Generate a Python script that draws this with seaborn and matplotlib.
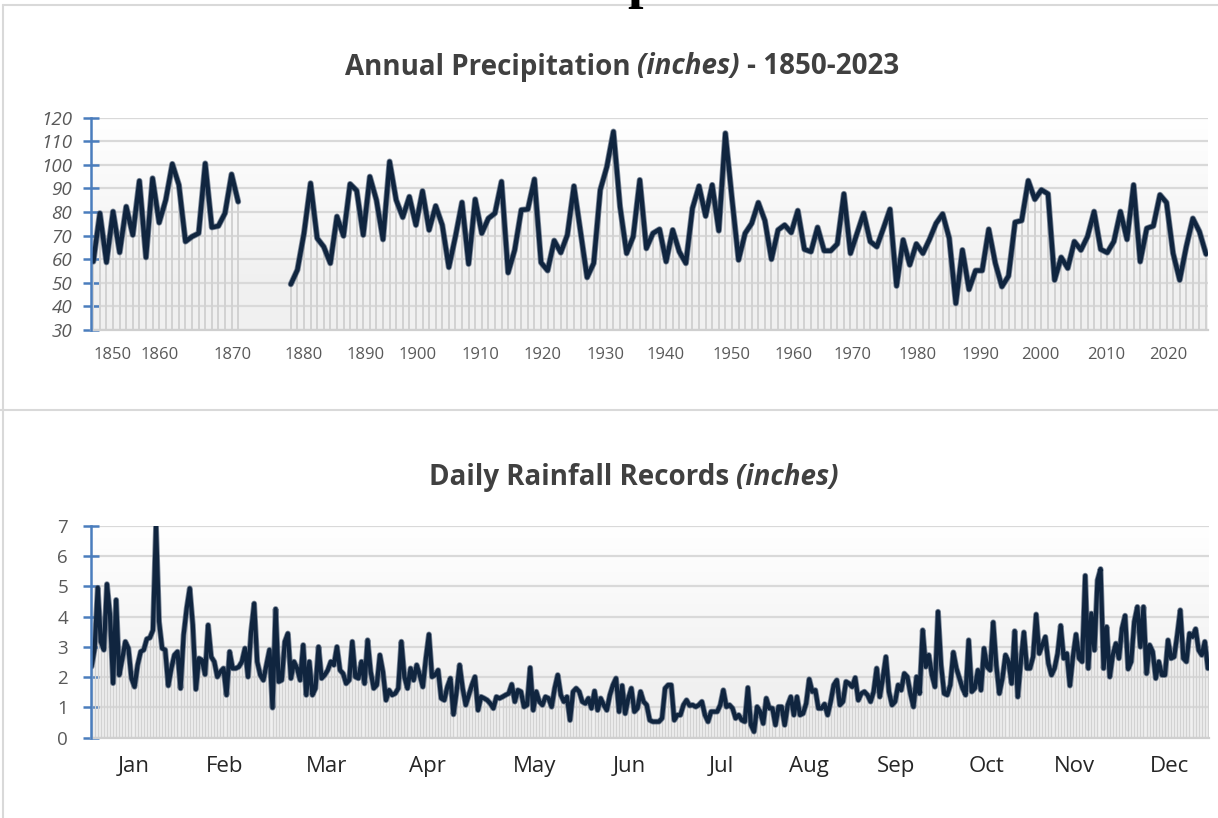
import numpy as np
import pandas as pd
import matplotlib
matplotlib.use("Agg")
import matplotlib.pyplot as plt
import seaborn as sns
from matplotlib.lines import Line2D
from matplotlib import patheffects as pe

# ---------------- data ----------------
annual_early = [59.0, 79.5, 58.7, 80.2, 62.9, 82.3, 70.3, 93.2, 60.8, 94.3, 75.5, 85.1,
                100.4, 91.5, 67.5, 69.6, 71.0, 100.6, 73.5, 74.1, 79.5, 96.0, 84.4]
annual_missing = 7
annual_late = [49.4, 55.5, 71.0, 92.2, 68.9, 65.3, 58.3, 78.1, 69.9, 91.9, 89.1, 70.3,
               95.0, 85.1, 68.4, 101.4, 85.1, 77.8, 86.5, 74.5, 88.9, 72.4, 82.6, 74.5,
               56.6, 69.6, 84.1, 58.0, 85.4,
               71.0, 77.3, 79.5, 92.9, 54.3, 63.9, 80.9, 81.2, 93.9, 58.6, 55.2, 67.9,
               62.8, 70.3, 91.0, 71.7, 52.3, 58.3, 89.4, 99.2, 114.1, 82.3, 62.5, 69.6,
               93.6, 64.6, 71.0, 72.7, 59.0, 72.4, 63.2, 58.3, 81.6, 91.0, 78.3, 91.5,
               72.1, 113.4, 85.8, 59.7, 71.0, 75.2, 84.0, 76.4, 60.0, 72.4, 74.5, 71.3,
               80.6, 64.2, 63.2, 73.5, 63.6, 63.6, 66.5, 87.7, 62.5,
               71.0, 79.5, 67.5, 65.3, 73.1, 81.2, 48.7, 68.2, 57.6, 66.5, 62.5, 68.4,
               75.2, 79.2, 68.9, 41.3, 63.9, 47.2, 55.2, 55.2, 72.7, 58.3, 48.4, 52.9,
               75.7, 76.4, 93.3, 85.4, 89.4, 87.7, 51.2, 60.8, 56.2, 67.5, 63.9, 69.6,
               80.2, 64.2, 62.8, 67.5, 80.2, 68.4, 91.5, 59.0, 73.1, 74.1, 87.3, 84.0,
               62.5, 51.2, 65.3, 77.3, 71.7, 62.2]
decade_labels = ["1850", "1860", "1870", "1880", "1890", "1900", "1910", "1920", "1930",
                 "1940", "1950", "1960", "1970", "1980", "1990", "2000", "2010", "2020"]

daily_record = [
    2.35, 2.95, 4.95, 3.17, 2.9, 5.07, 4.05, 1.8, 4.55, 2.07, 2.6, 3.17, 2.95, 1.96, 1.68,
    2.4, 2.84, 2.9, 3.26, 3.3, 3.55, 7.0, 3.83, 2.95, 2.9, 1.72, 2.29, 2.73, 2.84, 1.63,
    3.39, 4.27, 4.93, 3.72, 1.6, 2.62, 2.56, 2.09, 3.72, 2.67, 2.51, 2.01, 2.18, 2.29, 1.41,
    2.84, 2.29, 2.29, 2.34, 2.51, 2.95, 2.01, 3.5, 4.43, 2.51, 2.07, 1.9, 2.4, 2.9, 0.99,
    4.25, 1.85, 1.9, 3.17, 3.44, 1.96, 2.51, 2.29, 1.9, 3.06, 1.41, 2.51, 1.41,
    1.63, 3.0, 1.96, 2.07, 2.23, 2.51, 2.4, 3.0, 2.23, 2.12, 1.79, 1.9, 3.17, 2.01, 1.96,
    2.51, 1.79, 3.22, 2.18, 1.63, 1.74, 2.73, 2.18, 1.24, 1.57, 1.41, 1.46, 1.63, 3.17, 2.01,
    1.63, 2.29, 1.9, 2.4, 2.07, 1.68, 2.62, 3.41, 2.01, 2.07, 2.23, 1.3, 1.24, 1.68, 1.96,
    0.77, 1.52, 2.4, 1.63, 1.08, 1.41, 1.74, 2.01, 0.91, 1.35, 1.3, 1.24, 1.13, 0.97, 1.35,
    1.3, 1.35, 1.41, 1.46, 1.76, 1.19, 1.57, 1.52, 1.02, 1.08, 2.31, 0.91,
    1.52, 1.19, 1.08, 1.35, 1.3, 1.02, 1.63, 2.07, 1.41, 1.19, 1.35, 0.58, 1.52, 1.63, 1.52,
    1.19, 1.13, 1.3, 0.97, 1.54, 0.91, 1.3, 1.08, 0.91, 1.41, 1.74, 1.96, 0.86, 1.72, 0.8,
    1.3, 1.63, 0.86, 0.97, 1.52, 1.19, 1.08, 0.58, 0.53, 0.53, 0.53, 0.64, 1.63, 1.74, 1.74,
    0.58, 0.75, 0.75, 1.08, 1.24, 1.06, 1.08, 1.02, 1.08, 1.19, 0.75, 0.53, 0.86, 0.86, 0.86,
    1.08, 1.57, 1.02, 1.08, 0.97, 0.64, 0.75, 0.58, 0.53, 1.65, 0.42, 0.2,
    1.02, 0.86, 0.47, 1.3, 0.97, 0.97, 0.42, 1.02, 1.02, 0.42, 1.08, 1.35, 0.75, 1.35, 0.75,
    0.8, 1.13, 1.93, 1.52, 1.57, 0.97, 0.97, 1.11, 0.75, 1.19, 1.74, 1.9, 1.08, 1.19, 1.85,
    1.79, 1.68, 1.98, 1.24, 1.46, 1.52, 1.41, 1.19, 1.52, 2.29, 1.35, 1.96, 2.67, 1.52, 1.08,
    1.19, 1.74, 1.57, 2.12, 2.01, 1.46, 1.02, 2.01, 1.46, 3.55, 2.34, 2.73, 2.07, 1.68, 4.16,
    2.4, 1.46, 1.41, 1.74, 2.82, 2.29, 1.96, 1.63, 1.41, 3.22,
    1.52, 1.63, 2.23, 1.57, 2.95, 2.34, 2.23, 3.81, 2.4, 1.46, 1.96, 2.73, 2.51, 1.79, 3.52,
    1.35, 2.51, 3.48, 2.29, 2.29, 2.67, 4.07, 2.78, 3.06, 3.33, 2.45, 2.07, 2.29, 2.78, 3.7,
    2.62, 2.78, 1.72, 2.67, 3.41, 2.62, 2.51, 5.35, 2.29, 4.1, 2.89, 5.2, 5.57, 2.29, 3.66,
    2.01, 2.73, 3.11, 2.62, 3.61, 4.03, 2.27, 2.51, 3.83, 4.32, 3.0, 4.32, 2.12, 3.06, 2.84,
    1.96, 2.51, 2.07, 2.07, 3.22, 2.62, 2.67, 3.39, 4.21, 2.62, 2.51, 3.44, 3.33, 3.59, 2.89,
    2.73, 3.17, 2.29]
month_labels = ["Jan", "Feb", "Mar", "Apr", "May", "Jun", "Jul", "Aug", "Sep", "Oct", "Nov", "Dec"]

# ---------------- layout (tick positions in category units) ----------------
decade_tick_pos = [3.0, 10.1, 21.1, 31.9, 41.3, 49.2, 58.8, 68.3, 77.8, 86.9, 96.9,
                   106.3, 115.3, 125.2, 134.8, 143.9, 153.8, 163.2]
month_tick_pos = [13.9, 43.3, 76.5, 109.4, 144.6, 175.3, 205.2, 233.9, 262.3, 291.9,
                  320.6, 351.6]

W, H = 1218, 818
FONT = ["Open Sans", "DejaVu Sans"]
sns.set_theme(style="white")
plt.rcParams["font.family"] = FONT

LINE_C = "#10253f"
DROP_C = "#d2d2d2"
GRID_C = "#d9d9d9"
AXIS_C = "#4a7dbd"
TXT_C = "#595959"
TITLE_C = "#404040"

fig = plt.figure(figsize=(W / 100, H / 100), dpi=100)
fig.patch.set_facecolor("white")


def add_ax(l, t, r, b):
    return fig.add_axes([l / W, 1 - b / H, (r - l) / W, (b - t) / H])


def gradient(ax, x0, x1, y0, y1):
    g = np.linspace(0, 1, 256).reshape(-1, 1)
    alpha = np.clip((g - 0.25) / 0.75, 0, 1)
    rgba = np.zeros((256, 1, 4))
    rgba[..., :3] = 0.90
    rgba[..., 3] = (1 - alpha[..., 0])[:, None] * 0.55
    ax.imshow(rgba, extent=[x0, x1, y0, y1], origin="lower", aspect="auto",
              zorder=0, interpolation="bicubic")


def style_axis(ax):
    for s in ["top", "right"]:
        ax.spines[s].set_visible(False)
    ax.spines["left"].set_color(AXIS_C)
    ax.spines["left"].set_linewidth(1.8)
    ax.spines["left"].set_zorder(5)
    ax.spines["bottom"].set_color("#cfcfcf")
    ax.spines["bottom"].set_linewidth(1.6)
    ax.yaxis.grid(True, color=GRID_C, lw=1.6, zorder=1)
    ax.xaxis.grid(False)
    ax.set_axisbelow(True)
    ax.tick_params(axis="y", direction="inout", length=11, width=1.8, color=AXIS_C,
                   left=True, pad=8)
    ax.tick_params(axis="x", length=0)
    ax.set_xlabel("")
    ax.set_ylabel("")
    ax.set_facecolor("none")


def mixed_title(cx, cy, parts, size):
    r = fig.canvas.get_renderer()
    texts = []
    for s, st in parts:
        t = fig.text(0, 1 - cy / H, s, fontsize=size, fontweight="bold", fontstyle=st,
                     color=TITLE_C, va="center", ha="left", family=FONT)
        texts.append(t)
    sp = fig.text(0, 0, "a a", fontsize=size, fontweight="bold", family=FONT)
    sp2 = fig.text(0, 0, "aa", fontsize=size, fontweight="bold", family=FONT)
    gap = sp.get_window_extent(r).width - sp2.get_window_extent(r).width
    sp.remove(); sp2.remove()
    widths = [t.get_window_extent(r).width for t in texts]
    total = sum(widths) + gap * (len(texts) - 1)
    x = cx - total / 2
    for t, w in zip(texts, widths):
        t.set_x(x / W)
        x += w + gap


# ---------------- top chart ----------------
ax1 = add_ax(91, 117.7, 1208, 330)
n_a = len(annual_early) + annual_missing + len(annual_late)
vals_a = np.array(annual_early + [np.nan] * annual_missing + annual_late, dtype=float)
df_a = pd.DataFrame({"pos": np.arange(n_a), "inches": vals_a})
df_a["segment"] = np.where(df_a["pos"] < len(annual_early), "early", "late")
df_a = df_a.dropna()

x0a, x1a = -0.35, n_a - 1 + 0.3
gradient(ax1, x0a, x1a, 30, 120)
ax1.vlines(df_a["pos"], 30, df_a["inches"], color=DROP_C, lw=1.4, zorder=2)
for seg, d in df_a.groupby("segment"):
    sns.lineplot(data=d, x="pos", y="inches", ax=ax1, color=LINE_C, lw=3.2, zorder=4,
                 path_effects=[pe.Stroke(linewidth=4.4, foreground="#4b5b72", alpha=0.7),
                               pe.Normal()])
ax1.set_xlim(x0a, x1a)
ax1.set_ylim(30, 120)
style_axis(ax1)
ax1.set_yticks(np.arange(30, 121, 10), [str(v) for v in range(30, 121, 10)],
               fontstyle="italic", fontsize=13.5, color=TXT_C)
ax1.set_xticks(decade_tick_pos, decade_labels, fontsize=12, color=TXT_C)
ax1.tick_params(axis="x", pad=12.5)

# ---------------- bottom chart ----------------
ax2 = add_ax(91, 525.7, 1208.5, 737.7)
n_d = len(daily_record)
df_d = pd.DataFrame({"day": np.arange(n_d), "inches": daily_record})
x0d, x1d = -0.2, n_d - 1 + 0.2
gradient(ax2, x0d, x1d, 0, 7)
ax2.vlines(df_d["day"], 0, df_d["inches"], color=DROP_C, lw=1.0, zorder=2)
sns.lineplot(data=df_d, x="day", y="inches", ax=ax2, color=LINE_C, lw=3.0, zorder=4,
             path_effects=[pe.Stroke(linewidth=4.2, foreground="#4b5b72", alpha=0.7),
                           pe.Normal()])
ax2.set_xlim(x0d, x1d)
ax2.set_ylim(0, 7)
style_axis(ax2)
ax2.set_yticks(np.arange(0, 8, 1), [str(v) for v in range(0, 8)], fontsize=13.5,
               color=TXT_C)
ax2.set_xticks(month_tick_pos, month_labels, fontsize=16, color="#262626")
ax2.tick_params(axis="x", pad=13)
ax2.tick_params(axis="y", pad=11)

# ---------------- titles ----------------
mixed_title(622, 67, [("Annual Precipitation", "normal"), ("(inches)", "italic"),
                      ("- 1850-2023", "normal")], 20)
mixed_title(634, 477, [("Daily Rainfall Records", "normal"), ("(inches)", "italic")], 20)

# ---------------- frame lines & clipped heading ----------------
fig.add_artist(Line2D([3 / W, 1], [1 - 5 / H, 1 - 5 / H], color="#d9d9d9", lw=1.5))
fig.add_artist(Line2D([3 / W, 3 / W], [1 - 5 / H, 0], color="#d9d9d9", lw=1.5))
fig.add_artist(Line2D([0, 1], [1 - 410 / H, 1 - 410 / H], color="#d9d9d9", lw=1.5))
fig.text(627 / W, 1 + 3 / H, "p", fontsize=40, fontweight="bold",
         family=["Liberation Serif", "DejaVu Serif"], color="black", va="baseline",
         ha="left")

fig.savefig("out.png", dpi=100, facecolor="white")
